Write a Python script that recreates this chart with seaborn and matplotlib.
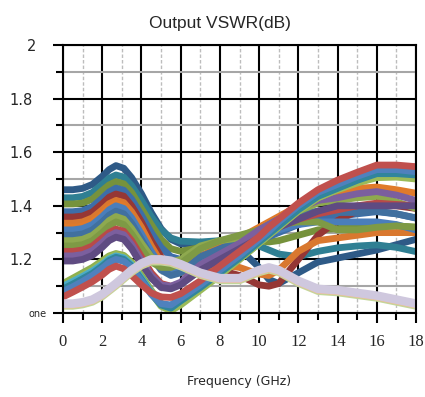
import matplotlib
matplotlib.use("Agg")
import matplotlib.pyplot as plt
import pandas as pd
import seaborn as sns
from matplotlib.ticker import MultipleLocator

# ---------------- data ----------------
freq = [0, 0.5, 1, 1.5, 2, 2.35, 2.7, 3.1, 3.5, 4, 4.5, 5, 5.5, 6,
        7, 8, 9, 10, 10.5, 11, 12, 13, 14, 15, 16, 17, 18]

# upper family
a01 = [1.46, 1.46, 1.465, 1.48, 1.51, 1.535, 1.55, 1.54, 1.505, 1.445, 1.375, 1.315, 1.275, 1.258,
       1.25, 1.255, 1.24, 1.17, 1.125, 1.11, 1.15, 1.19, 1.205, 1.22, 1.235, 1.255, 1.275]
a02 = [1.43, 1.43, 1.435, 1.45, 1.48, 1.503, 1.515, 1.507, 1.475, 1.42, 1.36, 1.31, 1.28, 1.268,
       1.265, 1.27, 1.265, 1.25, 1.235, 1.22, 1.21, 1.23, 1.243, 1.25, 1.254, 1.245, 1.229]
a03 = [1.407, 1.407, 1.41, 1.425, 1.457, 1.478, 1.49, 1.482, 1.45, 1.39, 1.33, 1.275, 1.24, 1.23,
       1.245, 1.26, 1.27, 1.27, 1.265, 1.27, 1.29, 1.31, 1.315, 1.32, 1.325, 1.325, 1.32]
a04 = [1.378, 1.378, 1.382, 1.397, 1.428, 1.452, 1.466, 1.458, 1.425, 1.365, 1.30, 1.245, 1.21, 1.20,
       1.215, 1.235, 1.25, 1.27, 1.285, 1.30, 1.33, 1.355, 1.36, 1.37, 1.378, 1.37, 1.354]
a05 = [1.358, 1.358, 1.362, 1.377, 1.408, 1.432, 1.444, 1.436, 1.40, 1.34, 1.27, 1.21, 1.17, 1.155,
       1.16, 1.16, 1.14, 1.105, 1.10, 1.11, 1.20, 1.29, 1.345, 1.38, 1.40, 1.40, 1.39]
a06 = [1.335, 1.335, 1.34, 1.355, 1.385, 1.408, 1.42, 1.412, 1.378, 1.32, 1.25, 1.19, 1.16, 1.15,
       1.17, 1.18, 1.17, 1.145, 1.14, 1.16, 1.23, 1.27, 1.28, 1.29, 1.30, 1.30, 1.30]
a07 = [1.32, 1.32, 1.325, 1.34, 1.37, 1.395, 1.41, 1.40, 1.365, 1.305, 1.24, 1.185, 1.16, 1.16,
       1.21, 1.25, 1.28, 1.32, 1.34, 1.36, 1.40, 1.43, 1.45, 1.465, 1.47, 1.46, 1.447]
a08 = [1.31, 1.31, 1.315, 1.33, 1.36, 1.385, 1.40, 1.39, 1.355, 1.295, 1.23, 1.175, 1.15, 1.155,
       1.19, 1.22, 1.25, 1.28, 1.30, 1.31, 1.33, 1.34, 1.34, 1.34, 1.34, 1.33, 1.31]
a09 = [1.29, 1.29, 1.295, 1.31, 1.34, 1.365, 1.38, 1.37, 1.335, 1.275, 1.21, 1.16, 1.14, 1.15,
       1.21, 1.24, 1.27, 1.31, 1.33, 1.35, 1.37, 1.38, 1.375, 1.375, 1.38, 1.37, 1.355]
a10 = [1.27, 1.27, 1.275, 1.29, 1.32, 1.345, 1.36, 1.35, 1.315, 1.26, 1.21, 1.19, 1.19, 1.20,
       1.25, 1.27, 1.28, 1.30, 1.32, 1.34, 1.38, 1.41, 1.42, 1.43, 1.435, 1.415, 1.39]
a11 = [1.25, 1.25, 1.255, 1.27, 1.30, 1.325, 1.34, 1.33, 1.295, 1.24, 1.19, 1.17, 1.17, 1.185,
       1.24, 1.27, 1.29, 1.31, 1.32, 1.33, 1.34, 1.34, 1.31, 1.31, 1.32, 1.325, 1.32]
a12 = [1.23, 1.23, 1.235, 1.25, 1.28, 1.30, 1.313, 1.305, 1.27, 1.21, 1.15, 1.11, 1.10, 1.11,
       1.16, 1.20, 1.24, 1.28, 1.30, 1.32, 1.35, 1.37, 1.385, 1.40, 1.41, 1.405, 1.40]
a13 = [1.213, 1.213, 1.218, 1.233, 1.263, 1.287, 1.30, 1.292, 1.255, 1.195, 1.14, 1.105, 1.10, 1.115,
       1.18, 1.22, 1.26, 1.31, 1.33, 1.35, 1.39, 1.42, 1.43, 1.445, 1.453, 1.44, 1.42]
a14 = [1.194, 1.194, 1.20, 1.215, 1.245, 1.27, 1.283, 1.275, 1.24, 1.18, 1.13, 1.095, 1.09, 1.105,
       1.16, 1.20, 1.24, 1.28, 1.30, 1.32, 1.35, 1.38, 1.40, 1.40, 1.40, 1.40, 1.40]

# lower family (crosses to the top at high frequency)
b01 = [1.11, 1.13, 1.15, 1.17, 1.195, 1.213, 1.222, 1.215, 1.19, 1.14, 1.085, 1.035, 1.02, 1.04,
       1.09, 1.145, 1.20, 1.26, 1.29, 1.32, 1.38, 1.43, 1.46, 1.49, 1.51, 1.512, 1.507]
b02 = [1.10, 1.12, 1.14, 1.16, 1.187, 1.207, 1.218, 1.21, 1.183, 1.13, 1.075, 1.025, 1.008, 1.03,
       1.085, 1.14, 1.20, 1.26, 1.29, 1.32, 1.38, 1.43, 1.46, 1.485, 1.505, 1.507, 1.50]
b03 = [1.10, 1.118, 1.137, 1.157, 1.182, 1.202, 1.213, 1.206, 1.18, 1.13, 1.078, 1.035, 1.025, 1.05,
       1.10, 1.155, 1.21, 1.27, 1.30, 1.33, 1.39, 1.44, 1.47, 1.50, 1.525, 1.527, 1.52]
b04 = [1.09, 1.108, 1.128, 1.148, 1.175, 1.196, 1.208, 1.20, 1.175, 1.125, 1.072, 1.03, 1.018, 1.045,
       1.095, 1.15, 1.205, 1.265, 1.295, 1.325, 1.385, 1.435, 1.465, 1.495, 1.52, 1.52, 1.515]
b05 = [1.08, 1.098, 1.118, 1.14, 1.167, 1.188, 1.20, 1.193, 1.168, 1.12, 1.07, 1.035, 1.03, 1.055,
       1.105, 1.16, 1.215, 1.275, 1.305, 1.34, 1.40, 1.45, 1.48, 1.51, 1.535, 1.535, 1.527]
b06 = [1.06, 1.078, 1.097, 1.117, 1.142, 1.163, 1.175, 1.165, 1.14, 1.105, 1.075, 1.06, 1.058, 1.072,
       1.12, 1.175, 1.23, 1.285, 1.32, 1.35, 1.41, 1.46, 1.496, 1.525, 1.552, 1.552, 1.546]

# bump family
c01 = [1.025, 1.025, 1.03, 1.04, 1.06, 1.08, 1.10, 1.125, 1.15, 1.175, 1.19, 1.19, 1.185, 1.172,
       1.14, 1.12, 1.12, 1.15, 1.16, 1.15, 1.11, 1.08, 1.075, 1.065, 1.055, 1.04, 1.025]
c02 = [1.03, 1.03, 1.035, 1.045, 1.065, 1.085, 1.105, 1.13, 1.155, 1.18, 1.195, 1.195, 1.19, 1.177,
       1.145, 1.125, 1.125, 1.155, 1.165, 1.155, 1.115, 1.085, 1.08, 1.07, 1.06, 1.045, 1.03]
c03 = [1.035, 1.035, 1.04, 1.05, 1.07, 1.09, 1.11, 1.135, 1.16, 1.185, 1.20, 1.20, 1.195, 1.182,
       1.15, 1.13, 1.13, 1.16, 1.17, 1.16, 1.12, 1.09, 1.085, 1.075, 1.065, 1.05, 1.035]

y_ticks = [1.0, 1.2, 1.4, 1.6, 1.8, 2.0]
y_labels = ["one", "1.2", "1.4", "1.6", "1.8", "2"]
x_ticks = [0, 2, 4, 6, 8, 10, 12, 14, 16, 18]
x_labels = ["0", "2", "4", "6", "8", "10", "12", "14", "16", "18"]

# ---------------- styling ----------------
upper = {"a01": (a01, "#2E5A87"), "a02": (a02, "#2F7F93"), "a03": (a03, "#76923C"),
         "a04": (a04, "#3D6EA8"), "a05": (a05, "#953735"), "a06": (a06, "#D9782F"),
         "a07": (a07, "#E07A2A"), "a08": (a08, "#4A7EBB"), "a09": (a09, "#41709F"),
         "a10": (a10, "#8EA94F"), "a11": (a11, "#7E9A45"), "a12": (a12, "#B94A48"),
         "a13": (a13, "#7B5F9E"), "a14": (a14, "#5F4B82")}
lower = {"b01": (b01, "#8FB04E"), "b02": (b02, "#9BBB59"), "b03": (b03, "#4BACC6"),
         "b04": (b04, "#31859C"), "b05": (b05, "#4F81BD"), "b06": (b06, "#C0504D")}
bump = {"c01": (c01, "#C3D69B"), "c02": (c02, "#F9B98A"), "c03": (c03, "#CFC8DE")}


def frame(group):
    rows = []
    for name, (vals, _) in group.items():
        for f, v in zip(freq, vals):
            rows.append({"series": name, "freq": f, "vswr": v})
    return pd.DataFrame(rows)


sns.set_style("white")
plt.rcParams["font.family"] = ["DejaVu Sans"]

fig = plt.figure(figsize=(4.25, 3.97), dpi=100)
ax = fig.add_axes([63 / 425, 1 - 313 / 397, 353 / 425, 268 / 397])

for group in (upper, lower, bump):
    df = frame(group)
    pal = {k: c for k, (_, c) in group.items()}
    sns.lineplot(data=df, x="freq", y="vswr", hue="series", palette=pal,
                 hue_order=list(group.keys()), linewidth=4.9, legend=False,
                 sort=False, ax=ax, solid_joinstyle="round", solid_capstyle="butt")
# thicker lavender on top
df_c = frame({"c03": bump["c03"]})
sns.lineplot(data=df_c, x="freq", y="vswr", color=bump["c03"][1], linewidth=6.2,
             legend=False, sort=False, ax=ax, solid_joinstyle="round", solid_capstyle="butt")

ax.set_xlim(0, 18)
ax.set_ylim(1, 2)
ax.set_xticks(x_ticks)
ax.set_xticklabels(x_labels, fontfamily="Liberation Serif", fontsize=12)
ax.xaxis.set_minor_locator(MultipleLocator(1))
ax.set_yticks(y_ticks)
ax.set_yticklabels(y_labels, fontsize=10.5)
ax.yaxis.set_minor_locator(MultipleLocator(0.1))
for lab in ax.get_yticklabels():
    if lab.get_text() == "one":
        lab.set_fontsize(7)

ax.set_axisbelow(True)
ax.grid(which="major", color="black", linewidth=1.5)
ax.grid(which="minor", axis="y", color="#A6A6A6", linewidth=1.5, linestyle="-")
ax.grid(which="minor", axis="x", color="#BDBDBD", linewidth=1.0, linestyle=(0, (2.5, 1.5)))

ax.tick_params(which="both", direction="out", color="black", width=1.5, left=True, bottom=True)
ax.tick_params(which="major", length=7)
ax.tick_params(which="minor", length=5)
ax.tick_params(axis="y", which="major", pad=15)
ax.tick_params(axis="x", which="major", pad=8)
yt = ax.yaxis.get_major_ticks()
yt[0].set_pad(5)
yt[-1].set_pad(12)

for sp in ax.spines.values():
    sp.set_visible(True)
    sp.set_color("black")
    sp.set_linewidth(1.5)

ax.set_xlabel("Frequency (GHz)", fontsize=9, labelpad=18)
ax.set_ylabel("")
ax.set_title("Output VSWR(dB)", fontfamily="Liberation Sans", fontsize=12.5,
             x=(220 - 63) / 353, pad=12)

fig.savefig("out.png", dpi=100)
